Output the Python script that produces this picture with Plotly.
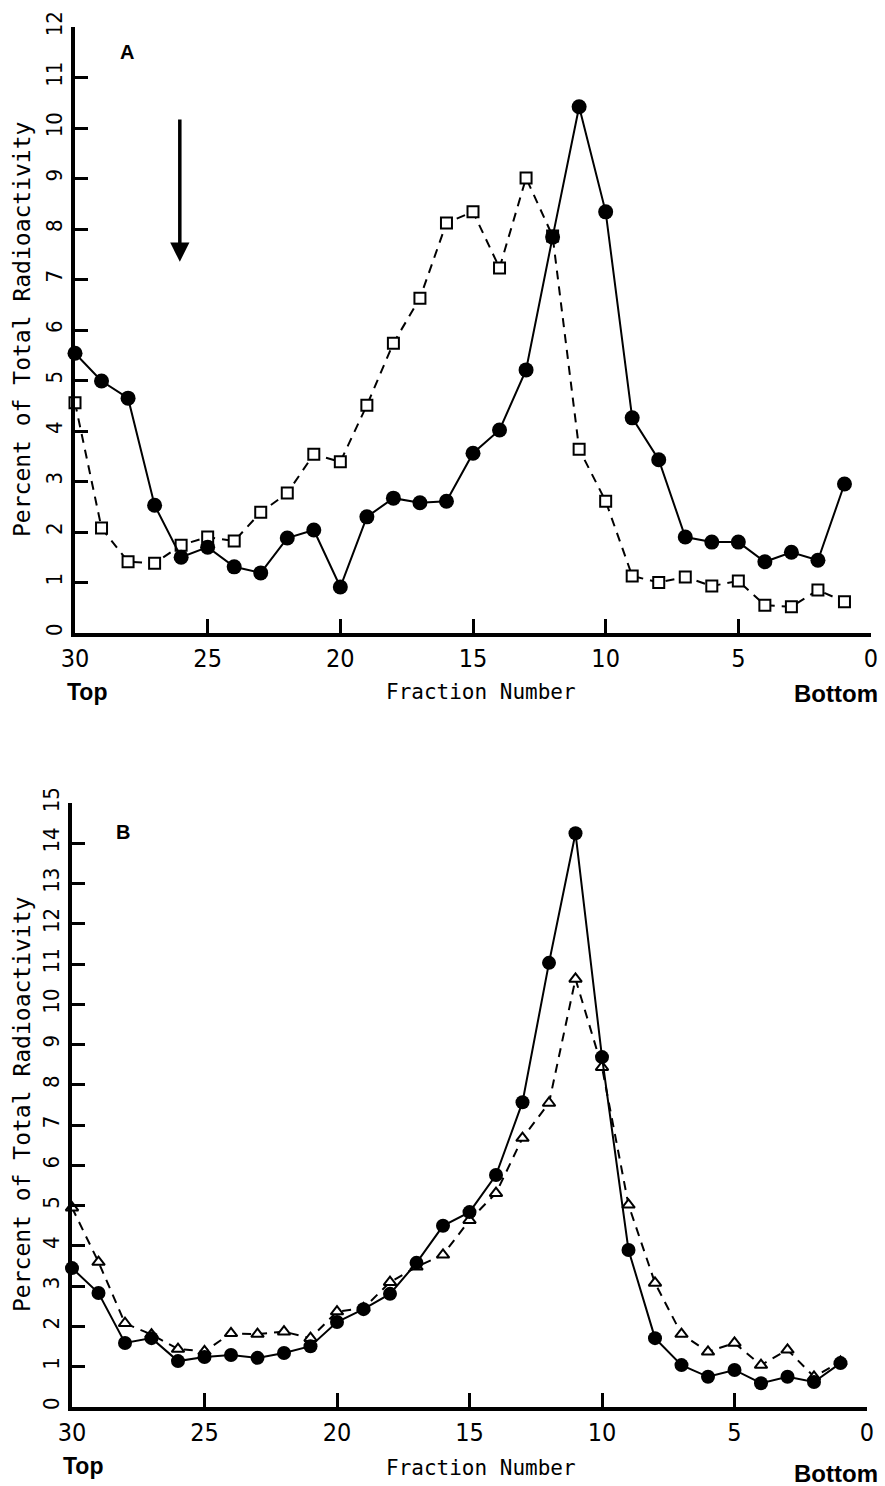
import plotly.graph_objects as go

W, H = 885, 1486

fractions = list(range(30, 0, -1))

a_circles = [5.54, 4.99, 4.65, 2.53, 1.50, 1.70, 1.31, 1.19, 1.88, 2.04,
             0.91, 2.30, 2.67, 2.58, 2.61, 3.56, 4.02, 5.21, 7.84, 10.42,
             8.34, 4.26, 3.43, 1.90, 1.80, 1.80, 1.41, 1.60, 1.44, 2.95]
a_squares = [4.56, 2.08, 1.41, 1.38, 1.74, 1.90, 1.82, 2.39, 2.77, 3.54,
             3.39, 4.51, 5.74, 6.63, 8.12, 8.34, 7.23, 9.01, 7.86, 3.64,
             2.61, 1.13, 1.00, 1.11, 0.93, 1.03, 0.55, 0.52, 0.85, 0.62]

b_circles = [3.45, 2.83, 1.59, 1.71, 1.14, 1.24, 1.29, 1.22, 1.34, 1.51,
             2.11, 2.43, 2.81, 3.58, 4.50, 4.84, 5.76, 7.57, 11.03, 14.25,
             8.69, 3.90, 1.71, 1.04, 0.75, 0.92, 0.59, 0.75, 0.62, 1.09]
b_triangles = [4.95, 3.60, 2.08, 1.80, 1.44, 1.38, 1.83, 1.81, 1.87, 1.71,
               2.37, 2.45, 3.10, 3.48, 3.78, 4.64, 5.31, 6.68, 7.55, 10.63,
               8.44, 5.02, 3.08, 1.81, 1.37, 1.59, 1.04, 1.42, 0.75, 1.12]

x_ticks = [30, 25, 20, 15, 10, 5, 0]
a_yticks = list(range(0, 13))
b_yticks = list(range(0, 16))

MONO = "DejaVu Sans Mono"
NARROW = "DejaVu Sans Condensed, DejaVu Sans"
BOLD = "Liberation Sans, Arial, sans-serif"


def px(x):
    return x / W


def py(y):
    return 1 - y / H


fig = go.Figure()

dash = "9px,7px"

fig.add_trace(go.Scatter(
    x=fractions, y=a_squares, mode="lines+markers", xaxis="x", yaxis="y",
    line=dict(color="black", width=2, dash=dash),
    marker=dict(symbol="square", size=11, color="white", line=dict(color="black", width=2)),
    cliponaxis=False, showlegend=False))
fig.add_trace(go.Scatter(
    x=fractions, y=a_circles, mode="lines+markers", xaxis="x", yaxis="y",
    line=dict(color="black", width=2),
    marker=dict(symbol="circle", size=15, color="black"),
    cliponaxis=False, showlegend=False))

fig.add_trace(go.Scatter(
    x=fractions, y=b_triangles, mode="lines+markers", xaxis="x2", yaxis="y2",
    line=dict(color="black", width=2, dash=dash),
    marker=dict(symbol="triangle-up", size=11, color="white", line=dict(color="black", width=2)),
    cliponaxis=False, showlegend=False))
fig.add_trace(go.Scatter(
    x=fractions, y=b_circles, mode="lines+markers", xaxis="x2", yaxis="y2",
    line=dict(color="black", width=2),
    marker=dict(symbol="circle", size=14, color="black"),
    cliponaxis=False, showlegend=False))

common_x = dict(range=[30, 0], tickvals=x_ticks, ticktext=[str(t) for t in x_ticks],
                showline=True, linecolor="black", linewidth=4, ticks="inside",
                ticklen=14, tickwidth=3, tickcolor="black", showgrid=False, zeroline=False,
                automargin=False,
                tickfont=dict(family=NARROW, size=25, color="black"))
common_y = dict(showline=True, linecolor="black", linewidth=4, ticks="inside",
                ticklen=13, tickwidth=3, tickcolor="black", showgrid=False, zeroline=False,
                automargin=False,
                tickangle=-90, tickfont=dict(family=NARROW, size=22, color="black"))

fig.update_layout(
    width=W, height=H, margin=dict(l=0, r=0, t=0, b=0, autoexpand=False),
    paper_bgcolor="white", plot_bgcolor="white",
    xaxis=dict(domain=[px(75), px(871)], anchor="y", **common_x),
    yaxis=dict(domain=[py(633), py(27)], anchor="x", range=[0, 12], tickvals=a_yticks,
               ticktext=[str(t) for t in a_yticks], **common_y),
    xaxis2=dict(domain=[px(72), px(867)], anchor="y2", **common_x),
    yaxis2=dict(domain=[py(1407), py(803)], anchor="x2", range=[0, 15], tickvals=b_yticks,
                ticktext=[str(t) for t in b_yticks], **common_y),
)


def label(xp, yp, text, family, size, angle=0):
    return dict(x=px(xp), y=py(yp), xref="paper", yref="paper", text=text, showarrow=False,
                xanchor="center", yanchor="middle", textangle=angle,
                font=dict(family=family, size=size, color="black"))


ann = []
# arrow in panel A
ann.append(dict(x=26.05, y=7.35, ax=26.05, ay=10.2, xref="x", yref="y", axref="x", ayref="y",
                showarrow=True, arrowhead=2, arrowsize=1.1, arrowwidth=3.5, arrowcolor="black", text=""))
# panel labels
ann.append(label(127, 52, "<b>A</b>", BOLD, 20))
ann.append(label(123, 832, "<b>B</b>", BOLD, 20))
# axis titles
for cy in (330, 1105):
    ann.append(label(22, cy, "Percent of Total Radioactivity", MONO, 23, -90))
for cy in (692, 1468):
    ann.append(label(481, cy, "Fraction Number", MONO, 21))
# Top / Bottom
ann.append(label(87, 692, "<b>Top</b>", BOLD, 23))
ann.append(label(836, 693, "<b>Bottom</b>", BOLD, 24))
ann.append(label(83, 1466, "<b>Top</b>", BOLD, 23))
ann.append(label(836, 1473, "<b>Bottom</b>", BOLD, 24))

fig.update_layout(annotations=ann)

fig.write_html("out.html")
